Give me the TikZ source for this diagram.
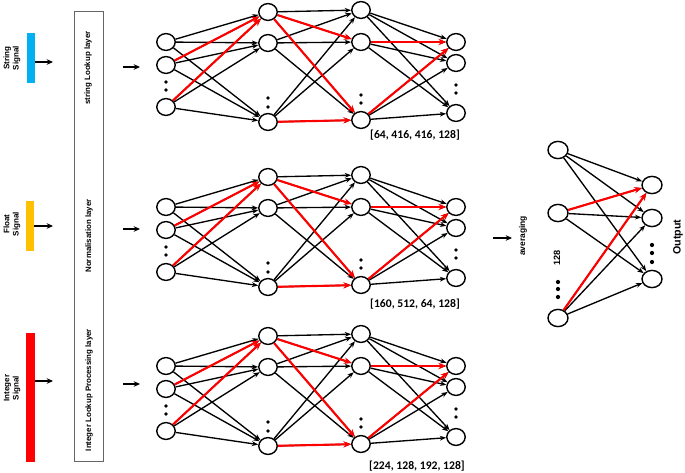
\documentclass[tikz,border=0pt]{standalone}
\usepackage{fontspec}
\setmainfont{Liberation Sans}
\newfontfamily\calfont{Carlito}
\usepackage{tikz}
\usetikzlibrary{arrows.meta,shapes.geometric}
\definecolor{strblue}{HTML}{00B0F0}
\definecolor{fltgold}{HTML}{FFC000}

\begin{document}
\begin{tikzpicture}[x=0.025cm,y=-0.025cm,>={Stealth[length=4.5pt,width=3.4pt]},
  neuron/.style={ellipse,draw,line width=1pt,minimum width=0.46cm,minimum height=0.42cm,inner sep=0pt},
  bigneuron/.style={neuron,minimum width=0.5cm,minimum height=0.43cm},
  link/.style={->,line width=0.95pt},
  hot/.style={-{Stealth[length=5.5pt,width=4.5pt]},red,line width=1.5pt},
  feed/.style={-{Stealth[length=4.5pt,width=4pt]},line width=1.4pt},
  sigbar/.style={draw=none,minimum width=0.2cm,inner sep=0pt},
  boxtext/.style={rotate=90,font=\bfseries\fontsize{5.6}{6.5}\selectfont},
  siglab/.style={rotate=90,align=center,font=\bfseries\fontsize{5.7}{6.6}\selectfont},
  netlab/.style={font=\calfont\bfseries\fontsize{8.3}{10}\selectfont,inner sep=1pt}]
\useasboundingbox (0,0) rectangle (685,473);
% input signals
\node[sigbar,fill=strblue,minimum height=1.25cm] (strbar) at (31,58) {};
\node[sigbar,fill=fltgold,minimum height=1.25cm] (fltbar) at (30,226) {};
\node[sigbar,fill=red,minimum height=3.225cm,minimum width=0.22cm] (intbar) at (30.5,397.5) {};
\node[siglab] (strlab) at (12,58) {String\\Signal};
\node[siglab] (fltlab) at (12,224) {Float\\Signal};
\node[siglab] (intlab) at (12,388) {Integer\\Signal};
\coordinate (str-to) at (53,62);
\coordinate (flt-to) at (53,226);
\coordinate (int-to) at (53,381);
\draw[feed] (str-to -| strbar.east) -- (str-to);
\draw[feed] (flt-to -| fltbar.east) -- (flt-to);
\draw[feed] (int-to -| intbar.east) -- (int-to);
% preprocessing column
\node[draw=gray!80!black,line width=0.6pt,minimum width=0.725cm,minimum height=11.25cm,inner sep=0pt] (stack) at (88.5,236) {};
\node[boxtext] (strlayer) at (88,68) {string Lookup layer};
\node[boxtext] (normlayer) at (89,236) {Normalisation layer};
\node[boxtext] (intlayer) at (89,390) {Integer Lookup Processing layer};
\foreach \n/\py in {a/67,b/229,c/384}{
  \coordinate (\n-from) at (123,\py);
  \coordinate (\n-to) at (140,\py);
  \draw[feed] (\n-from) -- (\n-to);
}
% the three dense networks
\foreach \n/\dy in {a/0,b/165,c/324}{
  \foreach \k/\y in {1/42,2/65,3/107} \node[neuron] (\n-1-\k) at (166,\y+\dy) {};
  \foreach \k/\y in {1/12,2/43,3/122} \node[neuron] (\n-2-\k) at (268,\y+\dy) {};
  \foreach \k/\y in {1/10,2/42,3/120} \node[neuron] (\n-3-\k) at (361,\y+\dy) {};
  \foreach \k/\y in {1/42,2/63,3/113} \node[neuron] (\n-4-\k) at (456,\y+\dy) {};
  \foreach \l/\m in {1/2,2/3,3/4}
    \foreach \i in {1,2,3}
      \foreach \j in {1,2,3}
        \draw[link] (\n-\l-\i) -- (\n-\m-\j);
  \foreach \s/\t in {1-2/2-1,1-3/2-1,2-1/3-2,2-1/3-3,2-3/3-3,3-2/4-1,3-3/4-1}
    \draw[hot] (\n-\s) -- (\n-\t);
  \foreach \px/\py in {166/82,166/90,268/98,268/107,361/95,361/103,456/85,456/93}
    \fill (\px,\py+\dy) circle (1.4pt);
}
\node[netlab] (a-size) at (415,135) {[64, 416, 416, 128]};
\node[netlab] (b-size) at (415,304) {[160, 512, 64, 128]};
\node[netlab] (c-size) at (417,466) {[224, 128, 192, 128]};
% averaging and output
\coordinate (avg-from) at (493,238);
\coordinate (avg-to) at (512,238);
\draw[feed] (avg-from) -- (avg-to);
\node[boxtext,font=\bfseries\fontsize{6}{7}\selectfont] (avglab) at (523,236) {averaging};
\node[boxtext,font=\bfseries\fontsize{6.5}{7.5}\selectfont] (avgsize) at (557,258) {128};
\node[boxtext,font=\bfseries\fontsize{7.6}{9}\selectfont] (outlab) at (678,237) {Output};
\foreach \k/\y in {1/150,2/213,3/318} \node[bigneuron] (avg-\k) at (558,\y) {};
\foreach \k/\y in {1/185,2/218,3/279} \node[bigneuron] (out-\k) at (652,\y) {};
\foreach \i in {1,2,3}
  \foreach \j in {1,2,3}
    \draw[link] (avg-\i) -- (out-\j);
\draw[hot] (avg-2) -- (out-1);
\draw[hot] (avg-3) -- (out-1);
\foreach \py in {282,289,297} \fill (558,\py) circle (1.5pt);
\foreach \py in {245,253,262} \fill (652,\py) circle (1.5pt);
\end{tikzpicture}
\end{document}
